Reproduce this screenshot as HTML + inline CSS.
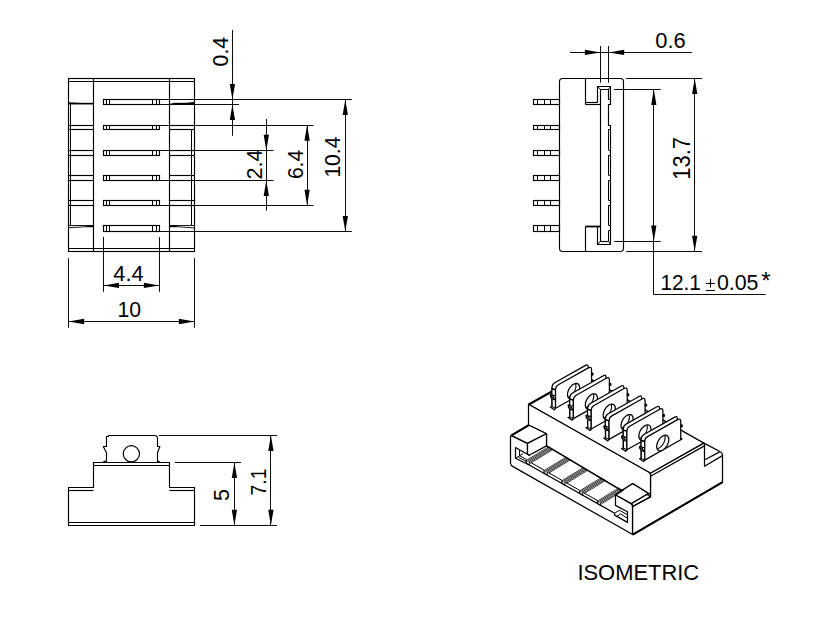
<!DOCTYPE html>
<html><head><meta charset="utf-8"><title>Drawing</title>
<style>
html,body{margin:0;padding:0;background:#fff;}
svg{display:block;}
text{font-family:"Liberation Sans",sans-serif;fill:#000;}
</style></head>
<body>
<svg width="832" height="617" viewBox="0 0 832 617">
<rect x="0" y="0" width="832" height="617" fill="#fff"/>
<rect x="68.5" y="78.5" width="126" height="173" fill="none" stroke="#000" stroke-width="1.15"/>
<line x1="68.5" y1="81.5" x2="194.5" y2="81.5" stroke="#000" stroke-width="1.15"/>
<line x1="68.5" y1="248.5" x2="194.5" y2="248.5" stroke="#000" stroke-width="1.15"/>
<line x1="93.5" y1="78.4" x2="93.5" y2="251.35" stroke="#000" stroke-width="1.15"/>
<line x1="169.5" y1="78.4" x2="169.5" y2="251.35" stroke="#000" stroke-width="1.15"/>
<rect x="103.5" y="99.5" width="56" height="5" fill="none" stroke="#000" stroke-width="1.15"/>
<line x1="106.5" y1="99.5" x2="106.5" y2="104.4" stroke="#000" stroke-width="1.0"/>
<line x1="109.5" y1="99.5" x2="109.5" y2="104.4" stroke="#000" stroke-width="1.0"/>
<line x1="152.5" y1="99.5" x2="152.5" y2="104.4" stroke="#000" stroke-width="1.0"/>
<line x1="156.5" y1="99.5" x2="156.5" y2="104.4" stroke="#000" stroke-width="1.0"/>
<rect x="103.5" y="125.5" width="56" height="4" fill="none" stroke="#000" stroke-width="1.15"/>
<line x1="106.5" y1="125.1" x2="106.5" y2="129.5" stroke="#000" stroke-width="1.0"/>
<line x1="109.5" y1="125.1" x2="109.5" y2="129.5" stroke="#000" stroke-width="1.0"/>
<line x1="152.5" y1="125.1" x2="152.5" y2="129.5" stroke="#000" stroke-width="1.0"/>
<line x1="156.5" y1="125.1" x2="156.5" y2="129.5" stroke="#000" stroke-width="1.0"/>
<line x1="68.5" y1="125.5" x2="93.4" y2="125.5" stroke="#000" stroke-width="1.15"/>
<line x1="68.5" y1="129.5" x2="93.4" y2="129.5" stroke="#000" stroke-width="1.15"/>
<line x1="169.6" y1="125.5" x2="194.5" y2="125.5" stroke="#000" stroke-width="1.15"/>
<line x1="169.6" y1="129.5" x2="194.5" y2="129.5" stroke="#000" stroke-width="1.15"/>
<rect x="103.5" y="150.5" width="56" height="5" fill="none" stroke="#000" stroke-width="1.15"/>
<line x1="106.5" y1="150.4" x2="106.5" y2="155.4" stroke="#000" stroke-width="1.0"/>
<line x1="109.5" y1="150.4" x2="109.5" y2="155.4" stroke="#000" stroke-width="1.0"/>
<line x1="152.5" y1="150.4" x2="152.5" y2="155.4" stroke="#000" stroke-width="1.0"/>
<line x1="156.5" y1="150.4" x2="156.5" y2="155.4" stroke="#000" stroke-width="1.0"/>
<line x1="68.5" y1="150.5" x2="93.4" y2="150.5" stroke="#000" stroke-width="1.15"/>
<line x1="68.5" y1="155.5" x2="93.4" y2="155.5" stroke="#000" stroke-width="1.15"/>
<line x1="169.6" y1="150.5" x2="194.5" y2="150.5" stroke="#000" stroke-width="1.15"/>
<line x1="169.6" y1="155.5" x2="194.5" y2="155.5" stroke="#000" stroke-width="1.15"/>
<rect x="103.5" y="175.5" width="56" height="5" fill="none" stroke="#000" stroke-width="1.15"/>
<line x1="106.5" y1="175.4" x2="106.5" y2="180.3" stroke="#000" stroke-width="1.0"/>
<line x1="109.5" y1="175.4" x2="109.5" y2="180.3" stroke="#000" stroke-width="1.0"/>
<line x1="152.5" y1="175.4" x2="152.5" y2="180.3" stroke="#000" stroke-width="1.0"/>
<line x1="156.5" y1="175.4" x2="156.5" y2="180.3" stroke="#000" stroke-width="1.0"/>
<line x1="68.5" y1="175.5" x2="93.4" y2="175.5" stroke="#000" stroke-width="1.15"/>
<line x1="68.5" y1="180.5" x2="93.4" y2="180.5" stroke="#000" stroke-width="1.15"/>
<line x1="169.6" y1="175.5" x2="194.5" y2="175.5" stroke="#000" stroke-width="1.15"/>
<line x1="169.6" y1="180.5" x2="194.5" y2="180.5" stroke="#000" stroke-width="1.15"/>
<rect x="103.5" y="200.5" width="56" height="5" fill="none" stroke="#000" stroke-width="1.15"/>
<line x1="106.5" y1="200.5" x2="106.5" y2="205.3" stroke="#000" stroke-width="1.0"/>
<line x1="109.5" y1="200.5" x2="109.5" y2="205.3" stroke="#000" stroke-width="1.0"/>
<line x1="152.5" y1="200.5" x2="152.5" y2="205.3" stroke="#000" stroke-width="1.0"/>
<line x1="156.5" y1="200.5" x2="156.5" y2="205.3" stroke="#000" stroke-width="1.0"/>
<line x1="68.5" y1="200.5" x2="93.4" y2="200.5" stroke="#000" stroke-width="1.15"/>
<line x1="68.5" y1="205.5" x2="93.4" y2="205.5" stroke="#000" stroke-width="1.15"/>
<line x1="169.6" y1="200.5" x2="194.5" y2="200.5" stroke="#000" stroke-width="1.15"/>
<line x1="169.6" y1="205.5" x2="194.5" y2="205.5" stroke="#000" stroke-width="1.15"/>
<rect x="103.5" y="225.5" width="56" height="6" fill="none" stroke="#000" stroke-width="1.15"/>
<line x1="106.5" y1="225.4" x2="106.5" y2="231.5" stroke="#000" stroke-width="1.0"/>
<line x1="109.5" y1="225.4" x2="109.5" y2="231.5" stroke="#000" stroke-width="1.0"/>
<line x1="152.5" y1="225.4" x2="152.5" y2="231.5" stroke="#000" stroke-width="1.0"/>
<line x1="156.5" y1="225.4" x2="156.5" y2="231.5" stroke="#000" stroke-width="1.0"/>
<line x1="70.5" y1="104" x2="70.5" y2="225.9" stroke="#000" stroke-width="1.0"/>
<line x1="191.5" y1="129.5" x2="191.5" y2="225.9" stroke="#000" stroke-width="1.0"/>
<path d="M68.5 102.4 L80 103 L93.4 103 L93.4 104.2 L68.5 104.2 Z" fill="#000" stroke="#000" stroke-width="0.4" stroke-linejoin="round" stroke-linecap="butt"/>
<path d="M169.6 104.2 L174 103.1 L187 102.9 L194.5 102.1 L194.5 104.2 Z" fill="#000" stroke="#000" stroke-width="0.4" stroke-linejoin="round" stroke-linecap="butt"/>
<path d="M68.5 225.5 L93.4 225.5 L93.4 226.7 L86.5 226.7 L68.5 227.7 Z" fill="none" stroke="#000" stroke-width="0.9" stroke-linejoin="round" stroke-linecap="butt"/>
<path d="M86.5 225.5 L93.4 225.5 L93.4 226.7 L86.5 226.7 Z" fill="#000" stroke="#000" stroke-width="0.4" stroke-linejoin="round" stroke-linecap="butt"/>
<path d="M169.6 225.5 L194.5 225.5 L194.5 227.9 L177 226.7 L169.6 226.7 Z" fill="none" stroke="#000" stroke-width="0.9" stroke-linejoin="round" stroke-linecap="butt"/>
<path d="M169.6 225.5 L177 225.5 L177 226.7 L169.6 226.7 Z" fill="#000" stroke="#000" stroke-width="0.4" stroke-linejoin="round" stroke-linecap="butt"/>
<line x1="159.5" y1="99.5" x2="351.8" y2="99.5" stroke="#000" stroke-width="0.95"/>
<line x1="159.5" y1="104.5" x2="239" y2="104.5" stroke="#000" stroke-width="0.95"/>
<line x1="159.5" y1="125.5" x2="313.6" y2="125.5" stroke="#000" stroke-width="0.95"/>
<line x1="159.5" y1="150.5" x2="273.5" y2="150.5" stroke="#000" stroke-width="0.95"/>
<line x1="159.5" y1="180.5" x2="273.5" y2="180.5" stroke="#000" stroke-width="0.95"/>
<line x1="159.5" y1="205.5" x2="313.6" y2="205.5" stroke="#000" stroke-width="0.95"/>
<line x1="159.5" y1="231.5" x2="351.8" y2="231.5" stroke="#000" stroke-width="0.95"/>
<line x1="232.5" y1="30.1" x2="232.5" y2="135.8" stroke="#000" stroke-width="0.95"/>
<polygon points="232.4,99.5 229.75,83.9 235.05,83.9" fill="#000"/>
<polygon points="232.4,104.4 229.75,120 235.05,120" fill="#000"/>
<text transform="translate(227.8 66.4) rotate(-90) scale(1 1.05)" x="0" y="0" font-size="21.6" text-anchor="start" textLength="29.5" lengthAdjust="spacingAndGlyphs">0.4</text>
<line x1="266.5" y1="119" x2="266.5" y2="210.6" stroke="#000" stroke-width="0.95"/>
<polygon points="266.3,150.4 263.65,134.8 268.95,134.8" fill="#000"/>
<polygon points="266.3,180.3 263.65,195.9 268.95,195.9" fill="#000"/>
<text transform="translate(262 179.5) rotate(-90) scale(1 1.05)" x="0" y="0" font-size="21.6" text-anchor="start" textLength="30" lengthAdjust="spacingAndGlyphs">2.4</text>
<line x1="307.5" y1="125.1" x2="307.5" y2="205.3" stroke="#000" stroke-width="0.95"/>
<polygon points="307.1,125.1 304.45,140.7 309.75,140.7" fill="#000"/>
<polygon points="307.1,205.3 304.45,189.7 309.75,189.7" fill="#000"/>
<text transform="translate(302.5 179.1) rotate(-90) scale(1 1.05)" x="0" y="0" font-size="21.6" text-anchor="start" textLength="29.3" lengthAdjust="spacingAndGlyphs">6.4</text>
<line x1="345.5" y1="99.5" x2="345.5" y2="231.5" stroke="#000" stroke-width="0.95"/>
<polygon points="345.3,99.5 342.65,115.1 347.95,115.1" fill="#000"/>
<polygon points="345.3,231.5 342.65,215.9 347.95,215.9" fill="#000"/>
<text transform="translate(340.3 177.6) rotate(-90) scale(1 1.05)" x="0" y="0" font-size="21.6" text-anchor="start" textLength="41" lengthAdjust="spacingAndGlyphs">10.4</text>
<line x1="103.5" y1="237" x2="103.5" y2="291.8" stroke="#000" stroke-width="0.95"/>
<line x1="159.5" y1="237" x2="159.5" y2="291.8" stroke="#000" stroke-width="0.95"/>
<line x1="103.4" y1="285.5" x2="159.5" y2="285.5" stroke="#000" stroke-width="0.95"/>
<polygon points="103.4,285.4 119,282.75 119,288.05" fill="#000"/>
<polygon points="159.5,285.4 143.9,282.75 143.9,288.05" fill="#000"/>
<text x="113.3" y="281.1" font-size="21.6" text-anchor="start" textLength="30.3" lengthAdjust="spacingAndGlyphs">4.4</text>
<line x1="68.5" y1="258.2" x2="68.5" y2="327.8" stroke="#000" stroke-width="0.95"/>
<line x1="194.5" y1="258.2" x2="194.5" y2="327.8" stroke="#000" stroke-width="0.95"/>
<line x1="68.5" y1="321.5" x2="194.5" y2="321.5" stroke="#000" stroke-width="0.95"/>
<polygon points="68.5,321.5 84.1,318.85 84.1,324.15" fill="#000"/>
<polygon points="194.5,321.5 178.9,318.85 178.9,324.15" fill="#000"/>
<text x="117.5" y="317.1" font-size="21.6" text-anchor="start" textLength="23.6" lengthAdjust="spacingAndGlyphs">10</text>
<rect x="559.5" y="78.5" width="64" height="173" rx="3.2" ry="3.2" fill="none" stroke="#000" stroke-width="1.15"/>
<rect x="533.5" y="99.5" width="26" height="5" fill="none" stroke="#000" stroke-width="1.15"/>
<line x1="537.5" y1="99.5" x2="537.5" y2="104.4" stroke="#000" stroke-width="1.0"/>
<line x1="544.5" y1="99.5" x2="544.5" y2="104.4" stroke="#000" stroke-width="1.0"/>
<line x1="550.5" y1="99.5" x2="550.5" y2="104.4" stroke="#000" stroke-width="1.0"/>
<rect x="533.5" y="125.5" width="26" height="4" fill="none" stroke="#000" stroke-width="1.15"/>
<line x1="537.5" y1="125.3" x2="537.5" y2="129.5" stroke="#000" stroke-width="1.0"/>
<line x1="544.5" y1="125.3" x2="544.5" y2="129.5" stroke="#000" stroke-width="1.0"/>
<line x1="550.5" y1="125.3" x2="550.5" y2="129.5" stroke="#000" stroke-width="1.0"/>
<rect x="533.5" y="150.5" width="26" height="5" fill="none" stroke="#000" stroke-width="1.15"/>
<line x1="537.5" y1="150.4" x2="537.5" y2="155.4" stroke="#000" stroke-width="1.0"/>
<line x1="544.5" y1="150.4" x2="544.5" y2="155.4" stroke="#000" stroke-width="1.0"/>
<line x1="550.5" y1="150.4" x2="550.5" y2="155.4" stroke="#000" stroke-width="1.0"/>
<rect x="533.5" y="175.5" width="26" height="5" fill="none" stroke="#000" stroke-width="1.15"/>
<line x1="537.5" y1="175.4" x2="537.5" y2="180.3" stroke="#000" stroke-width="1.0"/>
<line x1="544.5" y1="175.4" x2="544.5" y2="180.3" stroke="#000" stroke-width="1.0"/>
<line x1="550.5" y1="175.4" x2="550.5" y2="180.3" stroke="#000" stroke-width="1.0"/>
<rect x="533.5" y="200.5" width="26" height="5" fill="none" stroke="#000" stroke-width="1.15"/>
<line x1="537.5" y1="200.4" x2="537.5" y2="205.4" stroke="#000" stroke-width="1.0"/>
<line x1="544.5" y1="200.4" x2="544.5" y2="205.4" stroke="#000" stroke-width="1.0"/>
<line x1="550.5" y1="200.4" x2="550.5" y2="205.4" stroke="#000" stroke-width="1.0"/>
<rect x="533.5" y="225.5" width="26" height="6" fill="none" stroke="#000" stroke-width="1.15"/>
<line x1="537.5" y1="225.5" x2="537.5" y2="231.6" stroke="#000" stroke-width="1.0"/>
<line x1="544.5" y1="225.5" x2="544.5" y2="231.6" stroke="#000" stroke-width="1.0"/>
<line x1="550.5" y1="225.5" x2="550.5" y2="231.6" stroke="#000" stroke-width="1.0"/>
<line x1="585.5" y1="78.4" x2="585.5" y2="104.5" stroke="#000" stroke-width="1.15"/>
<line x1="585.5" y1="102.5" x2="597.5" y2="102.5" stroke="#000" stroke-width="1.15"/>
<line x1="585.5" y1="104.5" x2="600.5" y2="104.5" stroke="#000" stroke-width="1.15"/>
<line x1="585.5" y1="226.5" x2="600.5" y2="226.5" stroke="#000" stroke-width="1.8"/>
<line x1="585.5" y1="226.6" x2="585.5" y2="251.35" stroke="#000" stroke-width="1.15"/>
<path d="M597.5 102.5 L597.5 86.5 L610.5 86.5 L610.5 104.5 L608.5 104.5 L608.5 125.5 L610.5 125.5 L610.5 244.5 L597.5 244.5 L597.5 226.5" fill="none" stroke="#000" stroke-width="1.15" stroke-linejoin="miter" stroke-linecap="butt"/>
<path d="M600.5 241.5 L600.5 89.5 L608.5 89.5 L608.5 99.5 L610.5 99.5" fill="none" stroke="#000" stroke-width="1.15" stroke-linejoin="miter" stroke-linecap="butt"/>
<line x1="600.5" y1="241.5" x2="608.6" y2="241.5" stroke="#000" stroke-width="1.15"/>
<line x1="608.5" y1="129.3" x2="608.5" y2="150.2" stroke="#000" stroke-width="1.0"/>
<line x1="608.6" y1="129.5" x2="610.5" y2="129.5" stroke="#000" stroke-width="1.0"/>
<line x1="608.6" y1="150.5" x2="610.5" y2="150.5" stroke="#000" stroke-width="1.0"/>
<line x1="608.5" y1="155.2" x2="608.5" y2="175.3" stroke="#000" stroke-width="1.0"/>
<line x1="608.6" y1="155.5" x2="610.5" y2="155.5" stroke="#000" stroke-width="1.0"/>
<line x1="608.6" y1="175.5" x2="610.5" y2="175.5" stroke="#000" stroke-width="1.0"/>
<line x1="608.5" y1="180.4" x2="608.5" y2="200.4" stroke="#000" stroke-width="1.0"/>
<line x1="608.6" y1="180.5" x2="610.5" y2="180.5" stroke="#000" stroke-width="1.0"/>
<line x1="608.6" y1="200.5" x2="610.5" y2="200.5" stroke="#000" stroke-width="1.0"/>
<line x1="608.5" y1="205.2" x2="608.5" y2="225.4" stroke="#000" stroke-width="1.0"/>
<line x1="608.6" y1="205.5" x2="610.5" y2="205.5" stroke="#000" stroke-width="1.0"/>
<line x1="608.6" y1="225.5" x2="610.5" y2="225.5" stroke="#000" stroke-width="1.0"/>
<line x1="608.5" y1="230.9" x2="608.5" y2="241.2" stroke="#000" stroke-width="1.0"/>
<line x1="608.6" y1="230.5" x2="610.5" y2="230.5" stroke="#000" stroke-width="1.0"/>
<line x1="597.5" y1="86.5" x2="600.5" y2="89.3" stroke="#000" stroke-width="1.0"/>
<line x1="610.5" y1="86.5" x2="608.6" y2="89.3" stroke="#000" stroke-width="1.0"/>
<line x1="597.5" y1="244.5" x2="600.5" y2="241.2" stroke="#000" stroke-width="1.0"/>
<line x1="610.5" y1="244.5" x2="608.6" y2="241.2" stroke="#000" stroke-width="1.0"/>
<line x1="626.2" y1="78.5" x2="702" y2="78.5" stroke="#000" stroke-width="0.95"/>
<line x1="626.2" y1="251.5" x2="702" y2="251.5" stroke="#000" stroke-width="0.95"/>
<line x1="614.2" y1="89.5" x2="660.8" y2="89.5" stroke="#000" stroke-width="0.95"/>
<line x1="614.2" y1="241.5" x2="660.8" y2="241.5" stroke="#000" stroke-width="0.95"/>
<line x1="600.5" y1="46" x2="600.5" y2="82.7" stroke="#000" stroke-width="0.95"/>
<line x1="608.5" y1="46" x2="608.5" y2="82.7" stroke="#000" stroke-width="0.95"/>
<line x1="570" y1="52.5" x2="691.8" y2="52.5" stroke="#000" stroke-width="0.95"/>
<polygon points="600.5,52.4 584.9,49.75 584.9,55.05" fill="#000"/>
<polygon points="608.6,52.4 624.2,49.75 624.2,55.05" fill="#000"/>
<text x="655.3" y="47.8" font-size="21.6" text-anchor="start" textLength="30.4" lengthAdjust="spacingAndGlyphs">0.6</text>
<path d="M653.5 89.5 L653.5 294.5 L765.5 294.5" fill="none" stroke="#000" stroke-width="0.95" stroke-linejoin="miter" stroke-linecap="butt"/>
<polygon points="653.8,89.3 651.15,104.9 656.45,104.9" fill="#000"/>
<polygon points="653.8,241.2 651.15,225.6 656.45,225.6" fill="#000"/>
<text x="660.4" y="289.6" font-size="21.6" text-anchor="start" textLength="40.5" lengthAdjust="spacingAndGlyphs">12.1</text>
<line x1="705.9" y1="283.5" x2="714.8" y2="283.5" stroke="#000" stroke-width="1.1"/>
<line x1="710.5" y1="278.8" x2="710.5" y2="287.6" stroke="#000" stroke-width="1.1"/>
<line x1="705.9" y1="290.5" x2="714.8" y2="290.5" stroke="#000" stroke-width="1.1"/>
<text x="716.9" y="289.6" font-size="21.6" text-anchor="start" textLength="41.5" lengthAdjust="spacingAndGlyphs">0.05</text>
<text x="761.2" y="288.8" font-size="24" text-anchor="start">*</text>
<line x1="694.5" y1="78.4" x2="694.5" y2="251.35" stroke="#000" stroke-width="0.95"/>
<polygon points="694.7,78.4 692.05,94 697.35,94" fill="#000"/>
<polygon points="694.7,251.35 692.05,235.75 697.35,235.75" fill="#000"/>
<text transform="translate(689.9 179.8) rotate(-90) scale(1 1.07)" x="0" y="0" font-size="21.6" text-anchor="start" textLength="42.8" lengthAdjust="spacingAndGlyphs">13.7</text>
<path d="M68.5 525.5 L68.5 487.5 L93.5 487.5 L93.5 462.5 L169.5 462.5 L169.5 487.5 L194.5 487.5 L194.5 525.5 Z" fill="none" stroke="#000" stroke-width="1.15" stroke-linejoin="miter" stroke-linecap="butt"/>
<line x1="68.4" y1="522.5" x2="194.65" y2="522.5" stroke="#000" stroke-width="1.15"/>
<line x1="68.4" y1="490.5" x2="93.5" y2="490.5" stroke="#000" stroke-width="1.15"/>
<line x1="169.3" y1="490.5" x2="194.65" y2="490.5" stroke="#000" stroke-width="1.15"/>
<line x1="93.5" y1="465.5" x2="169.3" y2="465.5" stroke="#000" stroke-width="1.15"/>
<path d="M106.5 461.5 L106.5 452.8 L103.3 446.5 L106.5 446.5 L106.5 436.5 L108.5 436.5 L108.5 435.5 L154.2 435.5 Q157.5 435.5 157.5 438.4 L157.5 446.5 L159.9 446.5 L157.5 452.8 L157.5 461.5" fill="none" stroke="#000" stroke-width="1.15" stroke-linejoin="round"/>
<line x1="103.3" y1="461.5" x2="106.45" y2="461.5" stroke="#000" stroke-width="1.4"/>
<line x1="157" y1="461.5" x2="159.7" y2="461.5" stroke="#000" stroke-width="1.4"/>
<circle cx="131.35" cy="453.8" r="8.1" fill="none" stroke="#000" stroke-width="1.15"/>
<line x1="159" y1="435.5" x2="277" y2="435.5" stroke="#000" stroke-width="0.95"/>
<line x1="175" y1="462.5" x2="241" y2="462.5" stroke="#000" stroke-width="0.95"/>
<line x1="200" y1="525.5" x2="277" y2="525.5" stroke="#000" stroke-width="0.95"/>
<line x1="234.5" y1="462.45" x2="234.5" y2="525.4" stroke="#000" stroke-width="0.95"/>
<polygon points="234.4,462.45 231.75,478.05 237.05,478.05" fill="#000"/>
<polygon points="234.4,525.4 231.75,509.8 237.05,509.8" fill="#000"/>
<text transform="translate(229.4 500.9) rotate(-90) scale(1 1.05)" x="0" y="0" font-size="21.6" text-anchor="start">5</text>
<line x1="270.5" y1="435.3" x2="270.5" y2="525.4" stroke="#000" stroke-width="0.95"/>
<polygon points="270.9,435.3 268.25,450.9 273.55,450.9" fill="#000"/>
<polygon points="270.9,525.4 268.25,509.8 273.55,509.8" fill="#000"/>
<text transform="translate(265.9 495.5) rotate(-90) scale(1 1.05)" x="0" y="0" font-size="21.6" text-anchor="start" textLength="27" lengthAdjust="spacingAndGlyphs">7.1</text>
<path d="M528.5 404.2 L650.5 473.3 L703.9 443.1 L582 374.1 Z" fill="white" stroke="#000" stroke-width="1.25" stroke-linejoin="round" stroke-linecap="butt"/>
<path d="M528.7 404.7 L582.2 374.6" fill="none" stroke="#000" stroke-width="2.1" stroke-linejoin="round" stroke-linecap="butt"/>
<path d="M632.5 534.6 L722.5 482.2 L722.5 454.8 Q722.5 452.8 719.9 451.55 L703.9 443.1 L650.5 473.3 L650.5 496.9 L632.5 506.5 Z" fill="white" stroke="#000" stroke-width="1.25" stroke-linejoin="round"/>
<path d="M704.5 443.3 L704.5 466.2 L722.5 455.6" fill="none" stroke="#000" stroke-width="1.25" stroke-linejoin="round" stroke-linecap="butt"/>
<path d="M705 459.7 L719.6 451.9" fill="none" stroke="#000" stroke-width="1.25" stroke-linejoin="round" stroke-linecap="butt"/>
<path d="M651 476 L704.4 445.9" fill="none" stroke="#000" stroke-width="1.25" stroke-linejoin="round" stroke-linecap="butt"/>
<path d="M632.8 534.6 L722.6 482.2" fill="none" stroke="#000" stroke-width="2.0" stroke-linejoin="round" stroke-linecap="butt"/>
<path d="M528.5 404.2 L648.9 472.3 L650.5 474.2 L650.5 496.9 L632.8 483.6 L621.6 490.6 L546.5 445.9 L546.5 433.8 L528.5 425 Z" fill="white" stroke="#000" stroke-width="1.25" stroke-linejoin="round" stroke-linecap="butt"/>
<path d="M529.2 455.3 L614.6 513.2 L632.8 502 L621.6 490.6 L546.5 445.9 Z" fill="white" stroke="#000" stroke-width="0.01" stroke-linejoin="round" stroke-linecap="butt"/>
<path d="M510.5 437 L510.5 462.9 Q510.6 465.4 513.5 466.9 L631.4 533.8 Q632.5 534.5 632.5 533.2 L632.5 506.4 Q632.5 504.5 631.2 503.6 L615.5 494.8 L615.5 505.4 L627.5 511.8 L627.5 522.4 L614.6 515.1 L614.6 513.2 L529.2 465.0 L515.5 458.2 L515.5 447.5 L529.2 455.3 L527.5 454.1 L527.5 443.4 L511.6 435.6 Q510.5 435.4 510.5 437 Z" fill="white" stroke="#000" stroke-width="1.25" stroke-linejoin="round"/>
<path d="M511.3 435.4 L527.5 443.4 L546.5 433.8 L528.5 425 Z" fill="white" stroke="#000" stroke-width="1.25" stroke-linejoin="round" stroke-linecap="butt"/>
<path d="M511.1 435.6 L528.5 425.3" fill="none" stroke="#000" stroke-width="2.0" stroke-linejoin="round" stroke-linecap="butt"/>
<path d="M615.5 494.8 L631.2 503.6 L648.6 493.4 L632.8 483.6 Z" fill="white" stroke="#000" stroke-width="1.25" stroke-linejoin="round" stroke-linecap="butt"/>
<path d="M631.2 503.6 Q632.5 504.5 632.5 506.4" fill="none" stroke="#000" stroke-width="1.25" stroke-linejoin="round"/>
<path d="M632.8 506.5 L650.5 496.8" fill="none" stroke="#000" stroke-width="1.25" stroke-linejoin="round" stroke-linecap="butt"/>
<path d="M648.6 493.4 L650.5 494.6" fill="none" stroke="#000" stroke-width="1.25" stroke-linejoin="round" stroke-linecap="butt"/>
<path d="M527.5 443.4 L546.5 433.8 L546.5 445.9 L529.2 455.3 L527.5 454.1 Z" fill="white" stroke="#000" stroke-width="1.25" stroke-linejoin="round" stroke-linecap="butt"/>
<path d="M546.5 445.9 L621.6 490.6" fill="none" stroke="#000" stroke-width="1.25" stroke-linejoin="round" stroke-linecap="butt"/>
<path d="M526 460.6 L548 447.2" fill="none" stroke="#000" stroke-width="0.8" stroke-linejoin="round" stroke-linecap="butt"/>
<path d="M527.13 461.24 L549.13 447.84" fill="none" stroke="#000" stroke-width="0.8" stroke-linejoin="round" stroke-linecap="butt"/>
<path d="M528.26 461.88 L550.26 448.48" fill="none" stroke="#000" stroke-width="0.8" stroke-linejoin="round" stroke-linecap="butt"/>
<path d="M529.39 462.52 L551.39 449.12" fill="none" stroke="#000" stroke-width="0.8" stroke-linejoin="round" stroke-linecap="butt"/>
<path d="M530.52 463.16 L552.52 449.76" fill="none" stroke="#000" stroke-width="0.8" stroke-linejoin="round" stroke-linecap="butt"/>
<path d="M526.3 460 L526.3 463" fill="none" stroke="#000" stroke-width="1.3" stroke-linejoin="round" stroke-linecap="butt"/>
<path d="M529.3 462 L529.3 465" fill="none" stroke="#000" stroke-width="1.0" stroke-linejoin="round" stroke-linecap="butt"/>
<path d="M526.4 463.1 L529.3 465" fill="none" stroke="#000" stroke-width="1.0" stroke-linejoin="round" stroke-linecap="butt"/>
<path d="M530.9 462.6 L544 470.1" fill="none" stroke="#000" stroke-width="1.0" stroke-linejoin="round" stroke-linecap="butt"/>
<path d="M543.8 470.75 L565.8 457.35" fill="none" stroke="#000" stroke-width="0.8" stroke-linejoin="round" stroke-linecap="butt"/>
<path d="M544.93 471.39 L566.93 457.99" fill="none" stroke="#000" stroke-width="0.8" stroke-linejoin="round" stroke-linecap="butt"/>
<path d="M546.06 472.03 L568.06 458.63" fill="none" stroke="#000" stroke-width="0.8" stroke-linejoin="round" stroke-linecap="butt"/>
<path d="M547.19 472.67 L569.19 459.27" fill="none" stroke="#000" stroke-width="0.8" stroke-linejoin="round" stroke-linecap="butt"/>
<path d="M548.32 473.31 L570.32 459.91" fill="none" stroke="#000" stroke-width="0.8" stroke-linejoin="round" stroke-linecap="butt"/>
<path d="M544.1 470.15 L544.1 473.15" fill="none" stroke="#000" stroke-width="1.3" stroke-linejoin="round" stroke-linecap="butt"/>
<path d="M547.1 472.15 L547.1 475.15" fill="none" stroke="#000" stroke-width="1.0" stroke-linejoin="round" stroke-linecap="butt"/>
<path d="M544.2 473.25 L547.1 475.15" fill="none" stroke="#000" stroke-width="1.0" stroke-linejoin="round" stroke-linecap="butt"/>
<path d="M548.7 472.75 L561.8 480.25" fill="none" stroke="#000" stroke-width="1.0" stroke-linejoin="round" stroke-linecap="butt"/>
<path d="M561.6 480.9 L583.6 467.5" fill="none" stroke="#000" stroke-width="0.8" stroke-linejoin="round" stroke-linecap="butt"/>
<path d="M562.73 481.54 L584.73 468.14" fill="none" stroke="#000" stroke-width="0.8" stroke-linejoin="round" stroke-linecap="butt"/>
<path d="M563.86 482.18 L585.86 468.78" fill="none" stroke="#000" stroke-width="0.8" stroke-linejoin="round" stroke-linecap="butt"/>
<path d="M564.99 482.82 L586.99 469.42" fill="none" stroke="#000" stroke-width="0.8" stroke-linejoin="round" stroke-linecap="butt"/>
<path d="M566.12 483.46 L588.12 470.06" fill="none" stroke="#000" stroke-width="0.8" stroke-linejoin="round" stroke-linecap="butt"/>
<path d="M561.9 480.3 L561.9 483.3" fill="none" stroke="#000" stroke-width="1.3" stroke-linejoin="round" stroke-linecap="butt"/>
<path d="M564.9 482.3 L564.9 485.3" fill="none" stroke="#000" stroke-width="1.0" stroke-linejoin="round" stroke-linecap="butt"/>
<path d="M562 483.4 L564.9 485.3" fill="none" stroke="#000" stroke-width="1.0" stroke-linejoin="round" stroke-linecap="butt"/>
<path d="M566.5 482.9 L579.6 490.4" fill="none" stroke="#000" stroke-width="1.0" stroke-linejoin="round" stroke-linecap="butt"/>
<path d="M579.4 491.05 L601.4 477.65" fill="none" stroke="#000" stroke-width="0.8" stroke-linejoin="round" stroke-linecap="butt"/>
<path d="M580.53 491.69 L602.53 478.29" fill="none" stroke="#000" stroke-width="0.8" stroke-linejoin="round" stroke-linecap="butt"/>
<path d="M581.66 492.33 L603.66 478.93" fill="none" stroke="#000" stroke-width="0.8" stroke-linejoin="round" stroke-linecap="butt"/>
<path d="M582.79 492.97 L604.79 479.57" fill="none" stroke="#000" stroke-width="0.8" stroke-linejoin="round" stroke-linecap="butt"/>
<path d="M583.92 493.61 L605.92 480.21" fill="none" stroke="#000" stroke-width="0.8" stroke-linejoin="round" stroke-linecap="butt"/>
<path d="M579.7 490.45 L579.7 493.45" fill="none" stroke="#000" stroke-width="1.3" stroke-linejoin="round" stroke-linecap="butt"/>
<path d="M582.7 492.45 L582.7 495.45" fill="none" stroke="#000" stroke-width="1.0" stroke-linejoin="round" stroke-linecap="butt"/>
<path d="M579.8 493.55 L582.7 495.45" fill="none" stroke="#000" stroke-width="1.0" stroke-linejoin="round" stroke-linecap="butt"/>
<path d="M584.3 493.05 L597.4 500.55" fill="none" stroke="#000" stroke-width="1.0" stroke-linejoin="round" stroke-linecap="butt"/>
<path d="M597.2 501.2 L619.2 487.8" fill="none" stroke="#000" stroke-width="0.8" stroke-linejoin="round" stroke-linecap="butt"/>
<path d="M598.33 501.84 L620.33 488.44" fill="none" stroke="#000" stroke-width="0.8" stroke-linejoin="round" stroke-linecap="butt"/>
<path d="M599.46 502.48 L621.46 489.08" fill="none" stroke="#000" stroke-width="0.8" stroke-linejoin="round" stroke-linecap="butt"/>
<path d="M600.59 503.12 L622.59 489.72" fill="none" stroke="#000" stroke-width="0.8" stroke-linejoin="round" stroke-linecap="butt"/>
<path d="M601.72 503.76 L623.72 490.36" fill="none" stroke="#000" stroke-width="0.8" stroke-linejoin="round" stroke-linecap="butt"/>
<path d="M597.5 500.6 L597.5 503.6" fill="none" stroke="#000" stroke-width="1.3" stroke-linejoin="round" stroke-linecap="butt"/>
<path d="M600.5 502.6 L600.5 505.6" fill="none" stroke="#000" stroke-width="1.0" stroke-linejoin="round" stroke-linecap="butt"/>
<path d="M597.6 503.7 L600.5 505.6" fill="none" stroke="#000" stroke-width="1.0" stroke-linejoin="round" stroke-linecap="butt"/>
<path d="M515.5 458.2 L519.5 455.9 L519.5 450.2" fill="none" stroke="#000" stroke-width="1.0" stroke-linejoin="round" stroke-linecap="butt"/>
<path d="M519.5 455.9 L522.8 453.6" fill="none" stroke="#000" stroke-width="1.0" stroke-linejoin="round" stroke-linecap="butt"/>
<path d="M519.8 455.8 L526.4 459.4" fill="none" stroke="#000" stroke-width="1.0" stroke-linejoin="round" stroke-linecap="butt"/>
<path d="M518.4 457.2 L526.2 461.3" fill="none" stroke="#000" stroke-width="1.0" stroke-linejoin="round" stroke-linecap="butt"/>
<path d="M614.6 513.2 L619.4 510.3 L627.5 514.8" fill="none" stroke="#000" stroke-width="1.0" stroke-linejoin="round" stroke-linecap="butt"/>
<path d="M616.9 516.4 L620.4 513.9 L627.5 518.2" fill="none" stroke="#000" stroke-width="1.0" stroke-linejoin="round" stroke-linecap="butt"/>
<path d="M551.95 406.3 L551.95 387.48 Q551.95 384.28 554.74 382.71 L585.54 365.34 Q588.15 363.86 588.15 366.86 L588.15 387.91 Z" fill="white" stroke="#000" stroke-width="1.25" stroke-linejoin="round"/>
<path d="M551.85 388.8 L551.85 394.1 L550.35 394.9 L550.55 396.5 L552.05 399 L552.05 406.7 L550.25 407 L554.35 409.8 L555.55 408.3 L555.55 389.8 Z" fill="white" stroke="#000" stroke-width="1.25" stroke-linejoin="round" stroke-linecap="butt"/>
<path d="M550.35 394.9 L555.45 395.9" fill="none" stroke="#000" stroke-width="1.1" stroke-linejoin="round" stroke-linecap="butt"/>
<path d="M550.55 395.7 L555.45 399.7" fill="none" stroke="#000" stroke-width="1.1" stroke-linejoin="round" stroke-linecap="butt"/>
<path d="M551.95 394.1 L553.95 397.9" fill="none" stroke="#000" stroke-width="1.0" stroke-linejoin="round" stroke-linecap="butt"/>
<path d="M552.05 399 L555.45 399.9" fill="none" stroke="#000" stroke-width="1.1" stroke-linejoin="round" stroke-linecap="butt"/>
<path d="M552.05 406.7 L555.35 408.1" fill="none" stroke="#000" stroke-width="1.0" stroke-linejoin="round" stroke-linecap="butt"/>
<path d="M555.55 408.3 L555.55 389.6 Q555.55 386.4 558.34 384.83 L588.41 367.86 Q591.55 366.1 591.55 369.7 L591.55 388 Z" fill="white" stroke="#000" stroke-width="1.25" stroke-linejoin="round"/>
<path d="M551.95 388.4 L555.35 389.6" fill="none" stroke="#000" stroke-width="1.15" stroke-linejoin="round" stroke-linecap="butt"/>
<path d="M591.55 373.1 L593.05 372.9 L593.25 375 L591.55 375.3 Z" fill="#000" stroke="#000" stroke-width="0.9" stroke-linejoin="round" stroke-linecap="butt"/>
<path d="M591.55 386.7 L592.75 386.4 L592.75 387.6 L591.55 388 Z" fill="#000" stroke="#000" stroke-width="0.9" stroke-linejoin="round" stroke-linecap="butt"/>
<path d="M579.61 387.76 L579.56 386.88 L579.4 386.07 L579.15 385.35 L578.8 384.73 L578.36 384.22 L577.84 383.83 L577.24 383.56 L576.58 383.43 L575.87 383.43 L575.12 383.56 L574.34 383.82 L573.55 384.21 L572.76 384.72 L571.98 385.34 L571.23 386.06 L570.52 386.87 L569.86 387.75 L569.26 388.69 L568.74 389.68 L568.3 390.69 L567.95 391.71 L567.7 392.72 L567.54 393.7 L567.49 394.64 L567.54 395.52 L567.7 396.33 L567.95 397.05 L568.3 397.67 L568.74 398.18 L569.26 398.57 L569.86 398.84 L570.52 398.97 L571.23 398.97 L571.98 398.84 L572.76 398.58 L573.55 398.19 L574.34 397.68 L575.12 397.06 L575.87 396.34 L576.58 395.53 L577.24 394.65 L577.84 393.71 L578.36 392.72 L578.8 391.71 L579.15 390.69 L579.4 389.68 L579.56 388.7 L579.61 387.76 Z" fill="white" stroke="#000" stroke-width="1.25" stroke-linejoin="round" stroke-linecap="butt"/>
<path d="M568.28 396.84 L568.67 396.73 L569.06 396.58 L569.45 396.4 L569.85 396.19 L570.25 395.95 L570.64 395.68 L571.03 395.38 L571.42 395.06 L571.8 394.71 L572.17 394.34 L572.53 393.95 L572.88 393.53 L573.22 393.1 L573.54 392.65 L573.85 392.19 L574.14 391.71 L574.41 391.22 L574.66 390.72 L574.89 390.22 L575.1 389.71 L575.29 389.21 L575.45 388.7 L575.59 388.19 L575.71 387.69 L575.8 387.19 L575.86 386.7 L575.9 386.22 L575.91 385.76 L575.91 385.76 L575.9 385.31 L575.86 384.88 L575.8 384.46 L575.71 384.07 L575.59 383.7" fill="none" stroke="#000" stroke-width="1.15" stroke-linejoin="round" stroke-linecap="butt"/>
<path d="M569.79 416.66 L569.79 397.84 Q569.79 394.64 572.58 393.07 L603.38 375.7 Q605.99 374.22 605.99 377.22 L605.99 398.27 Z" fill="white" stroke="#000" stroke-width="1.25" stroke-linejoin="round"/>
<path d="M569.69 399.16 L569.69 404.46 L568.19 405.26 L568.39 406.86 L569.89 409.36 L569.89 417.06 L568.09 417.36 L572.19 420.16 L573.39 418.66 L573.39 400.16 Z" fill="white" stroke="#000" stroke-width="1.25" stroke-linejoin="round" stroke-linecap="butt"/>
<path d="M568.19 405.26 L573.29 406.26" fill="none" stroke="#000" stroke-width="1.1" stroke-linejoin="round" stroke-linecap="butt"/>
<path d="M568.39 406.06 L573.29 410.06" fill="none" stroke="#000" stroke-width="1.1" stroke-linejoin="round" stroke-linecap="butt"/>
<path d="M569.79 404.46 L571.79 408.26" fill="none" stroke="#000" stroke-width="1.0" stroke-linejoin="round" stroke-linecap="butt"/>
<path d="M569.89 409.36 L573.29 410.26" fill="none" stroke="#000" stroke-width="1.1" stroke-linejoin="round" stroke-linecap="butt"/>
<path d="M569.89 417.06 L573.19 418.46" fill="none" stroke="#000" stroke-width="1.0" stroke-linejoin="round" stroke-linecap="butt"/>
<path d="M573.39 418.66 L573.39 399.96 Q573.39 396.76 576.18 395.19 L606.25 378.22 Q609.39 376.46 609.39 380.06 L609.39 398.36 Z" fill="white" stroke="#000" stroke-width="1.25" stroke-linejoin="round"/>
<path d="M569.79 398.76 L573.19 399.96" fill="none" stroke="#000" stroke-width="1.15" stroke-linejoin="round" stroke-linecap="butt"/>
<path d="M609.39 383.46 L610.89 383.26 L611.09 385.36 L609.39 385.66 Z" fill="#000" stroke="#000" stroke-width="0.9" stroke-linejoin="round" stroke-linecap="butt"/>
<path d="M609.39 397.06 L610.59 396.76 L610.59 397.96 L609.39 398.36 Z" fill="#000" stroke="#000" stroke-width="0.9" stroke-linejoin="round" stroke-linecap="butt"/>
<path d="M597.45 398.12 L597.4 397.24 L597.24 396.43 L596.99 395.71 L596.64 395.09 L596.2 394.58 L595.68 394.19 L595.08 393.92 L594.42 393.79 L593.71 393.79 L592.96 393.92 L592.18 394.18 L591.39 394.57 L590.6 395.08 L589.82 395.7 L589.07 396.42 L588.36 397.23 L587.7 398.11 L587.1 399.05 L586.58 400.04 L586.14 401.05 L585.79 402.07 L585.54 403.08 L585.38 404.06 L585.33 405 L585.38 405.88 L585.54 406.69 L585.79 407.41 L586.14 408.03 L586.58 408.54 L587.1 408.93 L587.7 409.2 L588.36 409.33 L589.07 409.33 L589.82 409.2 L590.6 408.94 L591.39 408.55 L592.18 408.04 L592.96 407.42 L593.71 406.7 L594.42 405.89 L595.08 405.01 L595.68 404.07 L596.2 403.08 L596.64 402.07 L596.99 401.05 L597.24 400.04 L597.4 399.06 L597.45 398.12 Z" fill="white" stroke="#000" stroke-width="1.25" stroke-linejoin="round" stroke-linecap="butt"/>
<path d="M586.12 407.2 L586.51 407.09 L586.9 406.94 L587.29 406.76 L587.69 406.55 L588.09 406.31 L588.48 406.04 L588.87 405.74 L589.26 405.42 L589.64 405.07 L590.01 404.7 L590.37 404.31 L590.72 403.89 L591.06 403.46 L591.38 403.01 L591.69 402.55 L591.98 402.07 L592.25 401.58 L592.5 401.08 L592.73 400.58 L592.94 400.07 L593.13 399.57 L593.29 399.06 L593.43 398.55 L593.55 398.05 L593.64 397.55 L593.7 397.06 L593.74 396.58 L593.75 396.12 L593.75 396.12 L593.74 395.67 L593.7 395.24 L593.64 394.82 L593.55 394.43 L593.43 394.06" fill="none" stroke="#000" stroke-width="1.15" stroke-linejoin="round" stroke-linecap="butt"/>
<path d="M587.63 427.02 L587.63 408.2 Q587.63 405 590.42 403.43 L621.22 386.06 Q623.83 384.58 623.83 387.58 L623.83 408.63 Z" fill="white" stroke="#000" stroke-width="1.25" stroke-linejoin="round"/>
<path d="M587.53 409.52 L587.53 414.82 L586.03 415.62 L586.23 417.22 L587.73 419.72 L587.73 427.42 L585.93 427.72 L590.03 430.52 L591.23 429.02 L591.23 410.52 Z" fill="white" stroke="#000" stroke-width="1.25" stroke-linejoin="round" stroke-linecap="butt"/>
<path d="M586.03 415.62 L591.13 416.62" fill="none" stroke="#000" stroke-width="1.1" stroke-linejoin="round" stroke-linecap="butt"/>
<path d="M586.23 416.42 L591.13 420.42" fill="none" stroke="#000" stroke-width="1.1" stroke-linejoin="round" stroke-linecap="butt"/>
<path d="M587.63 414.82 L589.63 418.62" fill="none" stroke="#000" stroke-width="1.0" stroke-linejoin="round" stroke-linecap="butt"/>
<path d="M587.73 419.72 L591.13 420.62" fill="none" stroke="#000" stroke-width="1.1" stroke-linejoin="round" stroke-linecap="butt"/>
<path d="M587.73 427.42 L591.03 428.82" fill="none" stroke="#000" stroke-width="1.0" stroke-linejoin="round" stroke-linecap="butt"/>
<path d="M591.23 429.02 L591.23 410.32 Q591.23 407.12 594.02 405.55 L624.09 388.58 Q627.23 386.82 627.23 390.42 L627.23 408.72 Z" fill="white" stroke="#000" stroke-width="1.25" stroke-linejoin="round"/>
<path d="M587.63 409.12 L591.03 410.32" fill="none" stroke="#000" stroke-width="1.15" stroke-linejoin="round" stroke-linecap="butt"/>
<path d="M627.23 393.82 L628.73 393.62 L628.93 395.72 L627.23 396.02 Z" fill="#000" stroke="#000" stroke-width="0.9" stroke-linejoin="round" stroke-linecap="butt"/>
<path d="M627.23 407.42 L628.43 407.12 L628.43 408.32 L627.23 408.72 Z" fill="#000" stroke="#000" stroke-width="0.9" stroke-linejoin="round" stroke-linecap="butt"/>
<path d="M615.29 408.48 L615.24 407.6 L615.08 406.79 L614.83 406.07 L614.48 405.45 L614.04 404.94 L613.52 404.55 L612.92 404.28 L612.26 404.15 L611.55 404.15 L610.8 404.28 L610.02 404.54 L609.23 404.93 L608.44 405.44 L607.66 406.06 L606.91 406.78 L606.2 407.59 L605.54 408.47 L604.94 409.41 L604.42 410.4 L603.98 411.41 L603.63 412.43 L603.38 413.44 L603.22 414.42 L603.17 415.36 L603.22 416.24 L603.38 417.05 L603.63 417.77 L603.98 418.39 L604.42 418.9 L604.94 419.29 L605.54 419.56 L606.2 419.69 L606.91 419.69 L607.66 419.56 L608.44 419.3 L609.23 418.91 L610.02 418.4 L610.8 417.78 L611.55 417.06 L612.26 416.25 L612.92 415.37 L613.52 414.43 L614.04 413.44 L614.48 412.43 L614.83 411.41 L615.08 410.4 L615.24 409.42 L615.29 408.48 Z" fill="white" stroke="#000" stroke-width="1.25" stroke-linejoin="round" stroke-linecap="butt"/>
<path d="M603.96 417.56 L604.35 417.45 L604.74 417.3 L605.13 417.12 L605.53 416.91 L605.93 416.67 L606.32 416.4 L606.71 416.1 L607.1 415.78 L607.48 415.43 L607.85 415.06 L608.21 414.67 L608.56 414.25 L608.9 413.82 L609.22 413.37 L609.53 412.91 L609.82 412.43 L610.09 411.94 L610.34 411.44 L610.57 410.94 L610.78 410.43 L610.97 409.93 L611.13 409.42 L611.27 408.91 L611.39 408.41 L611.48 407.91 L611.54 407.42 L611.58 406.94 L611.59 406.48 L611.59 406.48 L611.58 406.03 L611.54 405.6 L611.48 405.18 L611.39 404.79 L611.27 404.42" fill="none" stroke="#000" stroke-width="1.15" stroke-linejoin="round" stroke-linecap="butt"/>
<path d="M605.47 437.38 L605.47 418.56 Q605.47 415.36 608.26 413.79 L639.06 396.42 Q641.67 394.94 641.67 397.94 L641.67 418.99 Z" fill="white" stroke="#000" stroke-width="1.25" stroke-linejoin="round"/>
<path d="M605.37 419.88 L605.37 425.18 L603.87 425.98 L604.07 427.58 L605.57 430.08 L605.57 437.78 L603.77 438.08 L607.87 440.88 L609.07 439.38 L609.07 420.88 Z" fill="white" stroke="#000" stroke-width="1.25" stroke-linejoin="round" stroke-linecap="butt"/>
<path d="M603.87 425.98 L608.97 426.98" fill="none" stroke="#000" stroke-width="1.1" stroke-linejoin="round" stroke-linecap="butt"/>
<path d="M604.07 426.78 L608.97 430.78" fill="none" stroke="#000" stroke-width="1.1" stroke-linejoin="round" stroke-linecap="butt"/>
<path d="M605.47 425.18 L607.47 428.98" fill="none" stroke="#000" stroke-width="1.0" stroke-linejoin="round" stroke-linecap="butt"/>
<path d="M605.57 430.08 L608.97 430.98" fill="none" stroke="#000" stroke-width="1.1" stroke-linejoin="round" stroke-linecap="butt"/>
<path d="M605.57 437.78 L608.87 439.18" fill="none" stroke="#000" stroke-width="1.0" stroke-linejoin="round" stroke-linecap="butt"/>
<path d="M609.07 439.38 L609.07 420.68 Q609.07 417.48 611.86 415.91 L641.93 398.94 Q645.07 397.18 645.07 400.78 L645.07 419.08 Z" fill="white" stroke="#000" stroke-width="1.25" stroke-linejoin="round"/>
<path d="M605.47 419.48 L608.87 420.68" fill="none" stroke="#000" stroke-width="1.15" stroke-linejoin="round" stroke-linecap="butt"/>
<path d="M645.07 404.18 L646.57 403.98 L646.77 406.08 L645.07 406.38 Z" fill="#000" stroke="#000" stroke-width="0.9" stroke-linejoin="round" stroke-linecap="butt"/>
<path d="M645.07 417.78 L646.27 417.48 L646.27 418.68 L645.07 419.08 Z" fill="#000" stroke="#000" stroke-width="0.9" stroke-linejoin="round" stroke-linecap="butt"/>
<path d="M633.13 418.84 L633.08 417.96 L632.92 417.15 L632.67 416.43 L632.32 415.81 L631.88 415.3 L631.36 414.91 L630.76 414.64 L630.1 414.51 L629.39 414.51 L628.64 414.64 L627.86 414.9 L627.07 415.29 L626.28 415.8 L625.5 416.42 L624.75 417.14 L624.04 417.95 L623.38 418.83 L622.78 419.77 L622.26 420.76 L621.82 421.77 L621.47 422.79 L621.22 423.8 L621.06 424.78 L621.01 425.72 L621.06 426.6 L621.22 427.41 L621.47 428.13 L621.82 428.75 L622.26 429.26 L622.78 429.65 L623.38 429.92 L624.04 430.05 L624.75 430.05 L625.5 429.92 L626.28 429.66 L627.07 429.27 L627.86 428.76 L628.64 428.14 L629.39 427.42 L630.1 426.61 L630.76 425.73 L631.36 424.79 L631.88 423.8 L632.32 422.79 L632.67 421.77 L632.92 420.76 L633.08 419.78 L633.13 418.84 Z" fill="white" stroke="#000" stroke-width="1.25" stroke-linejoin="round" stroke-linecap="butt"/>
<path d="M621.8 427.92 L622.19 427.81 L622.58 427.66 L622.97 427.48 L623.37 427.27 L623.77 427.03 L624.16 426.76 L624.55 426.46 L624.94 426.14 L625.32 425.79 L625.69 425.42 L626.05 425.03 L626.4 424.61 L626.74 424.18 L627.06 423.73 L627.37 423.27 L627.66 422.79 L627.93 422.3 L628.18 421.8 L628.41 421.3 L628.62 420.79 L628.81 420.29 L628.97 419.78 L629.11 419.27 L629.23 418.77 L629.32 418.27 L629.38 417.78 L629.42 417.3 L629.43 416.84 L629.43 416.84 L629.42 416.39 L629.38 415.96 L629.32 415.54 L629.23 415.15 L629.11 414.78" fill="none" stroke="#000" stroke-width="1.15" stroke-linejoin="round" stroke-linecap="butt"/>
<path d="M623.31 447.74 L623.31 428.92 Q623.31 425.72 626.1 424.15 L656.9 406.78 Q659.51 405.3 659.51 408.3 L659.51 429.35 Z" fill="white" stroke="#000" stroke-width="1.25" stroke-linejoin="round"/>
<path d="M623.21 430.24 L623.21 435.54 L621.71 436.34 L621.91 437.94 L623.41 440.44 L623.41 448.14 L621.61 448.44 L625.71 451.24 L626.91 449.74 L626.91 431.24 Z" fill="white" stroke="#000" stroke-width="1.25" stroke-linejoin="round" stroke-linecap="butt"/>
<path d="M621.71 436.34 L626.81 437.34" fill="none" stroke="#000" stroke-width="1.1" stroke-linejoin="round" stroke-linecap="butt"/>
<path d="M621.91 437.14 L626.81 441.14" fill="none" stroke="#000" stroke-width="1.1" stroke-linejoin="round" stroke-linecap="butt"/>
<path d="M623.31 435.54 L625.31 439.34" fill="none" stroke="#000" stroke-width="1.0" stroke-linejoin="round" stroke-linecap="butt"/>
<path d="M623.41 440.44 L626.81 441.34" fill="none" stroke="#000" stroke-width="1.1" stroke-linejoin="round" stroke-linecap="butt"/>
<path d="M623.41 448.14 L626.71 449.54" fill="none" stroke="#000" stroke-width="1.0" stroke-linejoin="round" stroke-linecap="butt"/>
<path d="M626.91 449.74 L626.91 431.04 Q626.91 427.84 629.7 426.27 L659.77 409.3 Q662.91 407.54 662.91 411.14 L662.91 429.44 Z" fill="white" stroke="#000" stroke-width="1.25" stroke-linejoin="round"/>
<path d="M623.31 429.84 L626.71 431.04" fill="none" stroke="#000" stroke-width="1.15" stroke-linejoin="round" stroke-linecap="butt"/>
<path d="M662.91 414.54 L664.41 414.34 L664.61 416.44 L662.91 416.74 Z" fill="#000" stroke="#000" stroke-width="0.9" stroke-linejoin="round" stroke-linecap="butt"/>
<path d="M662.91 428.14 L664.11 427.84 L664.11 429.04 L662.91 429.44 Z" fill="#000" stroke="#000" stroke-width="0.9" stroke-linejoin="round" stroke-linecap="butt"/>
<path d="M650.97 429.2 L650.92 428.32 L650.76 427.51 L650.51 426.79 L650.16 426.17 L649.72 425.66 L649.2 425.27 L648.6 425 L647.94 424.87 L647.23 424.87 L646.48 425 L645.7 425.26 L644.91 425.65 L644.12 426.16 L643.34 426.78 L642.59 427.5 L641.88 428.31 L641.22 429.19 L640.62 430.13 L640.1 431.12 L639.66 432.13 L639.31 433.15 L639.06 434.16 L638.9 435.14 L638.85 436.08 L638.9 436.96 L639.06 437.77 L639.31 438.49 L639.66 439.11 L640.1 439.62 L640.62 440.01 L641.22 440.28 L641.88 440.41 L642.59 440.41 L643.34 440.28 L644.12 440.02 L644.91 439.63 L645.7 439.12 L646.48 438.5 L647.23 437.78 L647.94 436.97 L648.6 436.09 L649.2 435.15 L649.72 434.16 L650.16 433.15 L650.51 432.13 L650.76 431.12 L650.92 430.14 L650.97 429.2 Z" fill="white" stroke="#000" stroke-width="1.25" stroke-linejoin="round" stroke-linecap="butt"/>
<path d="M639.64 438.28 L640.03 438.17 L640.42 438.02 L640.81 437.84 L641.21 437.63 L641.61 437.39 L642 437.12 L642.39 436.82 L642.78 436.5 L643.16 436.15 L643.53 435.78 L643.89 435.39 L644.24 434.97 L644.58 434.54 L644.9 434.09 L645.21 433.63 L645.5 433.15 L645.77 432.66 L646.02 432.16 L646.25 431.66 L646.46 431.15 L646.65 430.65 L646.81 430.14 L646.95 429.63 L647.07 429.13 L647.16 428.63 L647.22 428.14 L647.26 427.66 L647.27 427.2 L647.27 427.2 L647.26 426.75 L647.22 426.32 L647.16 425.9 L647.07 425.51 L646.95 425.14" fill="none" stroke="#000" stroke-width="1.15" stroke-linejoin="round" stroke-linecap="butt"/>
<path d="M641.15 458.1 L641.15 439.28 Q641.15 436.08 643.94 434.51 L674.74 417.14 Q677.35 415.66 677.35 418.66 L677.35 439.71 Z" fill="white" stroke="#000" stroke-width="1.25" stroke-linejoin="round"/>
<path d="M641.05 440.6 L641.05 445.9 L639.55 446.7 L639.75 448.3 L641.25 450.8 L641.25 458.5 L639.45 458.8 L643.55 461.6 L644.75 460.1 L644.75 441.6 Z" fill="white" stroke="#000" stroke-width="1.25" stroke-linejoin="round" stroke-linecap="butt"/>
<path d="M639.55 446.7 L644.65 447.7" fill="none" stroke="#000" stroke-width="1.1" stroke-linejoin="round" stroke-linecap="butt"/>
<path d="M639.75 447.5 L644.65 451.5" fill="none" stroke="#000" stroke-width="1.1" stroke-linejoin="round" stroke-linecap="butt"/>
<path d="M641.15 445.9 L643.15 449.7" fill="none" stroke="#000" stroke-width="1.0" stroke-linejoin="round" stroke-linecap="butt"/>
<path d="M641.25 450.8 L644.65 451.7" fill="none" stroke="#000" stroke-width="1.1" stroke-linejoin="round" stroke-linecap="butt"/>
<path d="M641.25 458.5 L644.55 459.9" fill="none" stroke="#000" stroke-width="1.0" stroke-linejoin="round" stroke-linecap="butt"/>
<path d="M644.75 460.1 L644.75 441.4 Q644.75 438.2 647.54 436.63 L677.61 419.66 Q680.75 417.9 680.75 421.5 L680.75 439.8 Z" fill="white" stroke="#000" stroke-width="1.25" stroke-linejoin="round"/>
<path d="M641.15 440.2 L644.55 441.4" fill="none" stroke="#000" stroke-width="1.15" stroke-linejoin="round" stroke-linecap="butt"/>
<path d="M680.75 424.9 L682.25 424.7 L682.45 426.8 L680.75 427.1 Z" fill="#000" stroke="#000" stroke-width="0.9" stroke-linejoin="round" stroke-linecap="butt"/>
<path d="M680.75 438.5 L681.95 438.2 L681.95 439.4 L680.75 439.8 Z" fill="#000" stroke="#000" stroke-width="0.9" stroke-linejoin="round" stroke-linecap="butt"/>
<path d="M668.81 439.56 L668.76 438.68 L668.6 437.87 L668.35 437.15 L668 436.53 L667.56 436.02 L667.04 435.63 L666.44 435.36 L665.78 435.23 L665.07 435.23 L664.32 435.36 L663.54 435.62 L662.75 436.01 L661.96 436.52 L661.18 437.14 L660.43 437.86 L659.72 438.67 L659.06 439.55 L658.46 440.49 L657.94 441.48 L657.5 442.49 L657.15 443.51 L656.9 444.52 L656.74 445.5 L656.69 446.44 L656.74 447.32 L656.9 448.13 L657.15 448.85 L657.5 449.47 L657.94 449.98 L658.46 450.37 L659.06 450.64 L659.72 450.77 L660.43 450.77 L661.18 450.64 L661.96 450.38 L662.75 449.99 L663.54 449.48 L664.32 448.86 L665.07 448.14 L665.78 447.33 L666.44 446.45 L667.04 445.51 L667.56 444.52 L668 443.51 L668.35 442.49 L668.6 441.48 L668.76 440.5 L668.81 439.56 Z" fill="white" stroke="#000" stroke-width="1.25" stroke-linejoin="round" stroke-linecap="butt"/>
<path d="M657.48 448.64 L657.87 448.53 L658.26 448.38 L658.65 448.2 L659.05 447.99 L659.45 447.75 L659.84 447.48 L660.23 447.18 L660.62 446.86 L661 446.51 L661.37 446.14 L661.73 445.75 L662.08 445.33 L662.42 444.9 L662.74 444.45 L663.05 443.99 L663.34 443.51 L663.61 443.02 L663.86 442.52 L664.09 442.02 L664.3 441.51 L664.49 441.01 L664.65 440.5 L664.79 439.99 L664.91 439.49 L665 438.99 L665.06 438.5 L665.1 438.02 L665.11 437.56 L665.11 437.56 L665.1 437.11 L665.06 436.68 L665 436.26 L664.91 435.87 L664.79 435.5" fill="none" stroke="#000" stroke-width="1.15" stroke-linejoin="round" stroke-linecap="butt"/>
<text x="577.4" y="579.8" font-size="21.3" text-anchor="start" textLength="121.8" lengthAdjust="spacingAndGlyphs">ISOMETRIC</text>
</svg>
</body></html>
